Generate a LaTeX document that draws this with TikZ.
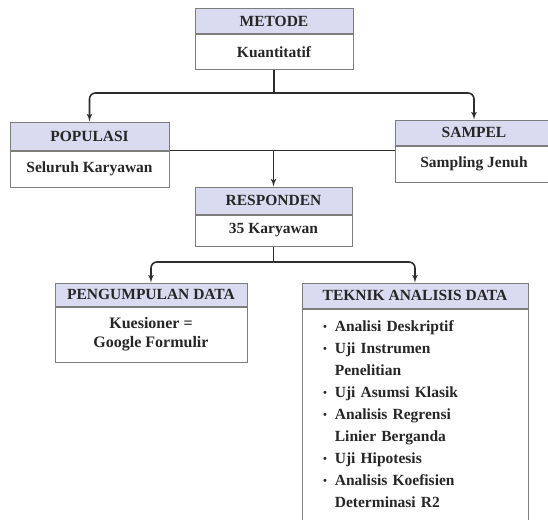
\documentclass[tikz,border=0pt]{standalone}
\usepackage{fontspec}
\setmainfont{Liberation Serif}
\usepackage{tikz}
\usetikzlibrary{shapes,arrows,positioning}
\definecolor{headFill}{RGB}{218,218,240}
\definecolor{boxGray}{RGB}{125,125,125}
\definecolor{lineGray}{RGB}{45,45,45}
\newcommand{\hurufBox}{\bfseries\fontsize{15.5}{22}\selectfont}
\tikzstyle{headBox} = [rectangle, draw=boxGray, fill=headFill, line width=1pt, inner sep=0pt, minimum height=25pt, font=\hurufBox]
\tikzstyle{bodyBox} = [rectangle, draw=boxGray, fill=white, line width=1pt, inner sep=0pt, minimum height=35pt, font=\hurufBox, align=center]
\tikzstyle{trunk} = [draw, lineGray, line width=1.6pt]
\tikzstyle{line} = [trunk, -latex', rounded corners=6pt]
\newcommand{\butir}{\raisebox{1.2pt}{\fontsize{11}{11}\selectfont\textbullet}}

\begin{document}
\begin{tikzpicture}[x=1pt, y=-1pt, text=black!85]
  \useasboundingbox (0,0) rectangle (548,519);

  % nodes
  \node [headBox, minimum width=158pt] (metode) at (274,21) {METODE};
  \node [bodyBox, minimum width=158pt, below=0pt of metode] (metodeIsi) {Kuantitatif};

  \node [headBox, minimum width=159pt, minimum height=28pt] (populasi) at (89.5,136) {POPULASI};
  \node [bodyBox, minimum width=159pt, minimum height=36pt, below=0pt of populasi] (populasiIsi) {Seluruh Karyawan};

  \node [headBox, minimum width=158pt] (sampel) at (474,132.5) {SAMPEL};
  \node [bodyBox, minimum width=158pt, minimum height=36pt, below=0pt of sampel] (sampelIsi) {Sampling Jenuh};

  \node [headBox, minimum width=157pt, minimum height=27pt] (responden) at (273.5,200.5) {RESPONDEN};
  \node [bodyBox, minimum width=157pt, minimum height=31pt, below=0pt of responden] (respondenIsi) {35 Karyawan};

  \node [headBox, minimum width=192pt, minimum height=23pt] (kumpul) at (151,294.5) {PENGUMPULAN DATA};
  \node [bodyBox, minimum width=192pt, minimum height=55pt, below=0pt of kumpul,
    font=\bfseries\fontsize{16}{19}\selectfont] (kumpulIsi) {Kuesioner =\\Google Formulir};

  \node [headBox, minimum width=226pt] (teknik) at (415,295.5) {TEKNIK ANALISIS DATA};
  \node [bodyBox, minimum width=226pt, minimum height=213pt, below=0pt of teknik,
    text width=190pt, inner xsep=18pt, align=left] (teknikIsi) {%
    \hspace*{3pt}\begin{tabular}{@{}c@{\hspace{8pt}}l@{}}
      \butir & Analisi Deskriptif\\
      \butir & Uji Instrumen\\
             & Penelitian\\
      \butir & Uji Asumsi Klasik\\
      \butir & Analisis Regrensi\\
             & Linier Berganda\\
      \butir & Uji Hipotesis\\
      \butir & Analisis Koefisien\\
             & Determinasi R2
    \end{tabular}};

  % edges
  \coordinate (cabang1) at (metodeIsi.south |- 0,93);
  \path [trunk] (metodeIsi.south) -- (cabang1);
  \path [line] (cabang1) -| (populasi.north);
  \path [line] (cabang1) -| (sampel.north);

  \coordinate (cabang2) at (responden.north |- populasiIsi.north);
  \path [trunk] (populasiIsi.north east) -- (populasiIsi.north east -| sampelIsi.west);
  \path [line] (cabang2) -- (responden.north);

  \coordinate (cabang3) at (respondenIsi.south |- 0,262);
  \path [trunk] (respondenIsi.south) -- (cabang3);
  \path [line] (cabang3) -| (kumpul.north);
  \path [line] (cabang3) -| (teknik.north);
\end{tikzpicture}
\end{document}
